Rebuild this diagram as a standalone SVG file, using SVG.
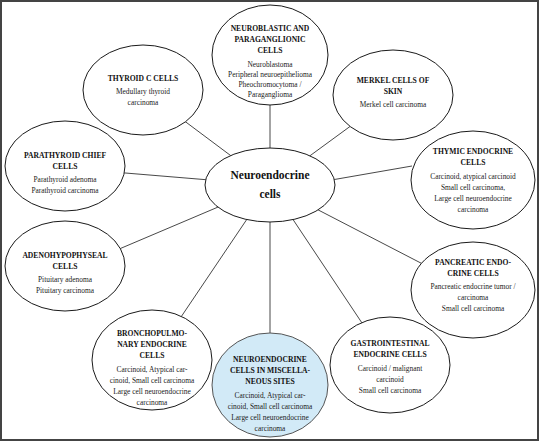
<svg xmlns="http://www.w3.org/2000/svg" width="539" height="441" viewBox="0 0 539 441">
<style>
.n{fill:#fff;stroke:#1a1a1a;stroke-width:1}
.b{fill:#d2eaf7;stroke:#555;stroke-width:1}
.t{font-family:"Liberation Serif",serif;font-size:7.6px;font-weight:bold;fill:#111;text-anchor:middle}
.s{font-family:"Liberation Serif",serif;font-size:7.4px;fill:#222;text-anchor:middle}
.c{font-family:"Liberation Serif",serif;font-size:11.5px;font-weight:bold;fill:#111;text-anchor:middle}
.l{stroke:#333;stroke-width:0.9}
</style>
<rect x="1" y="1" width="537" height="439" fill="#fff" stroke="#444" stroke-width="2"/>
<g id="connectors">
<line class="l" x1="270" y1="55" x2="270" y2="185"/>
<line class="l" x1="143" y1="90" x2="270" y2="185"/>
<line class="l" x1="393" y1="95" x2="270" y2="185"/>
<line class="l" x1="65" y1="168" x2="270" y2="185"/>
<line class="l" x1="412" y1="166" x2="320" y2="182"/>
<line class="l" x1="65" y1="272" x2="270" y2="185"/>
<line class="l" x1="473" y1="290" x2="270" y2="185"/>
<line class="l" x1="152" y1="360" x2="270" y2="185"/>
<line class="l" x1="270" y1="385" x2="270" y2="185"/>
<line class="l" x1="390" y1="365" x2="270" y2="185"/>
</g>
<g id="center">
<ellipse class="n" cx="270" cy="185" rx="65" ry="37"/>
<text class="c" x="270" y="179">Neuroendocrine</text>
<text class="c" x="270" y="198">cells</text>
</g>
<g id="neuroblastic">
<ellipse class="n" cx="270" cy="55" rx="58" ry="50"/>
<text class="t" x="270" y="31">NEUROBLASTIC AND</text>
<text class="t" x="270" y="42">PARAGANGLIONIC</text>
<text class="t" x="270" y="53">CELLS</text>
<text class="s" x="270" y="67">Neuroblastoma</text>
<text class="s" x="270" y="77">Peripheral neuroepithelioma</text>
<text class="s" x="270" y="87">Pheochromocytoma /</text>
<text class="s" x="270" y="97">Paraganglioma</text>
</g>
<g id="thyroid">
<ellipse class="n" cx="143" cy="90" rx="60" ry="45"/>
<text class="t" x="143" y="81">THYROID C CELLS</text>
<text class="s" x="143" y="94">Medullary thyroid</text>
<text class="s" x="143" y="105">carcinoma</text>
</g>
<g id="merkel">
<ellipse class="n" cx="393" cy="95" rx="60" ry="45"/>
<text class="t" x="393" y="83">MERKEL CELLS OF</text>
<text class="t" x="393" y="94">SKIN</text>
<text class="s" x="393" y="107">Merkel cell carcinoma</text>
</g>
<g id="parathyroid">
<ellipse class="n" cx="65" cy="166" rx="60" ry="45"/>
<text class="t" x="65" y="158">PARATHYROID CHIEF</text>
<text class="t" x="65" y="169">CELLS</text>
<text class="s" x="65" y="182">Parathyroid adenoma</text>
<text class="s" x="65" y="193">Parathyroid carcinoma</text>
</g>
<g id="thymic">
<ellipse class="n" cx="473" cy="180" rx="62" ry="49"/>
<text class="t" x="473" y="154">THYMIC ENDOCRINE</text>
<text class="t" x="473" y="165">CELLS</text>
<text class="s" x="473" y="179">Carcinoid, atypical carcinoid</text>
<text class="s" x="473" y="190">Small cell carcinoma,</text>
<text class="s" x="473" y="201">Large cell neuroendocrine</text>
<text class="s" x="473" y="212">carcinoma</text>
</g>
<g id="adenohypophyseal">
<ellipse class="n" cx="65" cy="266" rx="60" ry="45"/>
<text class="t" x="65" y="258">ADENOHYPOPHYSEAL</text>
<text class="t" x="65" y="269">CELLS</text>
<text class="s" x="65" y="282">Pituitary adenoma</text>
<text class="s" x="65" y="293">Pituitary carcinoma</text>
</g>
<g id="pancreatic">
<ellipse class="n" cx="473" cy="290" rx="62" ry="48"/>
<text class="t" x="473" y="265">PANCREATIC ENDO-</text>
<text class="t" x="473" y="276">CRINE CELLS</text>
<text class="s" x="473" y="289">Pancreatic endocrine tumor /</text>
<text class="s" x="473" y="300">carcinoma</text>
<text class="s" x="473" y="311">Small cell carcinoma</text>
</g>
<g id="bronchopulmonary">
<ellipse class="n" cx="152" cy="360" rx="60" ry="50"/>
<text class="t" x="152" y="336">BRONCHOPULMO-</text>
<text class="t" x="152" y="347">NARY ENDOCRINE</text>
<text class="t" x="152" y="358">CELLS</text>
<text class="s" x="152" y="372">Carcinoid, Atypical car-</text>
<text class="s" x="152" y="383">cinoid, Small cell carcinoma</text>
<text class="s" x="152" y="394">Large cell neuroendocrine</text>
<text class="s" x="152" y="405">carcinoma</text>
</g>
<g id="miscellaneous">
<ellipse class="b" cx="270" cy="385" rx="58" ry="52"/>
<text class="t" x="270" y="362">NEUROENDOCRINE</text>
<text class="t" x="270" y="373">CELLS IN MISCELLA-</text>
<text class="t" x="270" y="384">NEOUS SITES</text>
<text class="s" x="270" y="398">Carcinoid, Atypical car-</text>
<text class="s" x="270" y="409">cinoid, Small cell carcinoma</text>
<text class="s" x="270" y="420">Large cell neuroendocrine</text>
<text class="s" x="270" y="431">carcinoma</text>
</g>
<g id="gastrointestinal">
<ellipse class="n" cx="390" cy="365" rx="60" ry="48"/>
<text class="t" x="390" y="346">GASTROINTESTINAL</text>
<text class="t" x="390" y="357">ENDOCRINE CELLS</text>
<text class="s" x="390" y="371">Carcinoid / malignant</text>
<text class="s" x="390" y="382">carcinoid</text>
<text class="s" x="390" y="393">Small cell carcinoma</text>
</g>
</svg>
